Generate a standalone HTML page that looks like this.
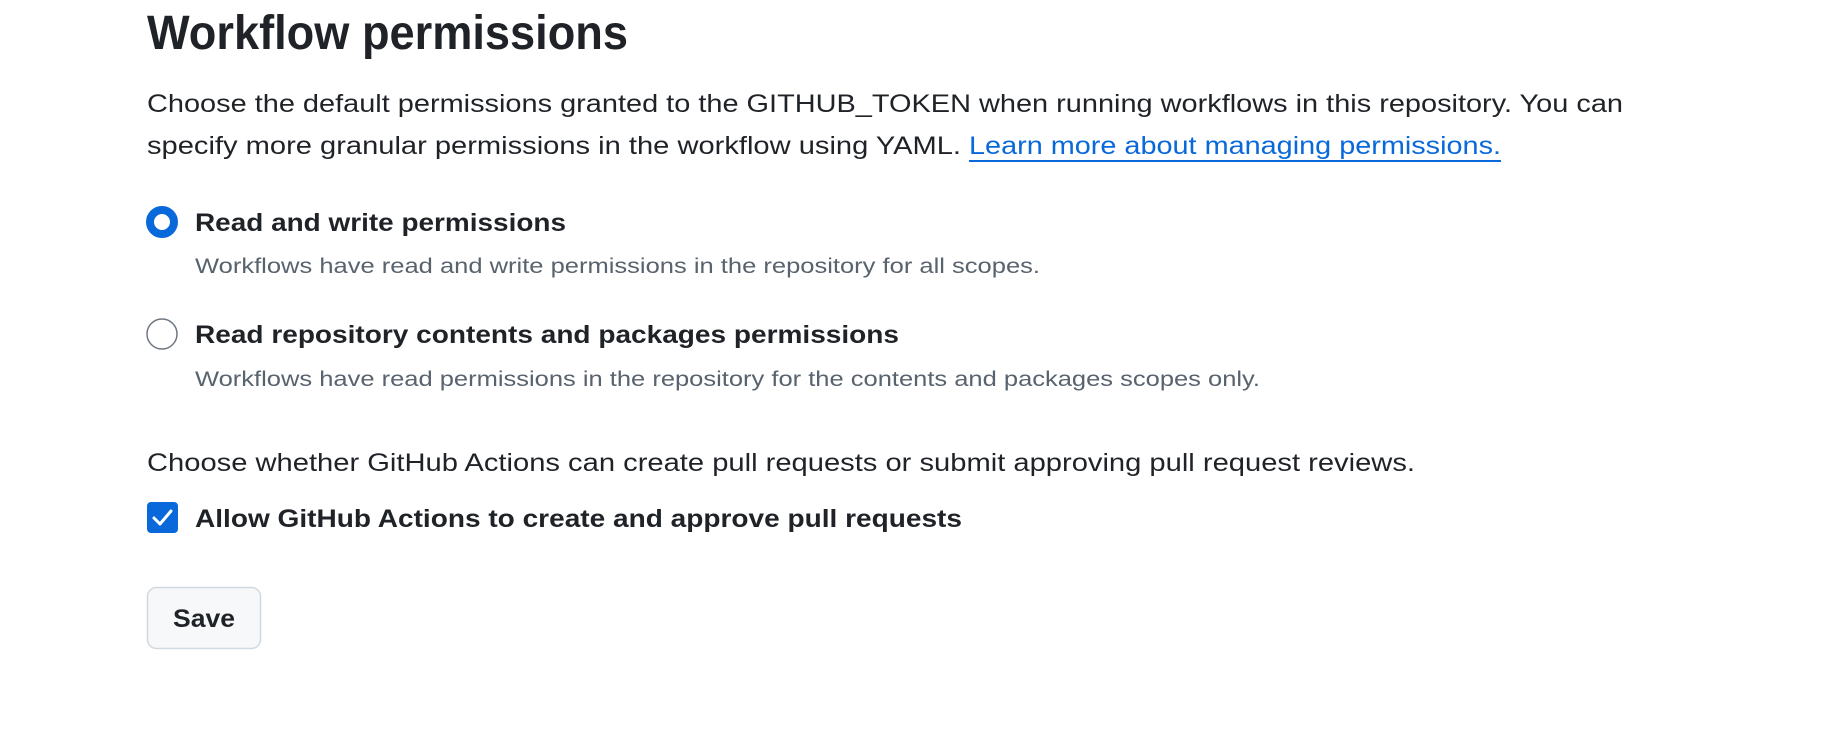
<!DOCTYPE html>
<html><head><meta charset="utf-8"><style>
html,body{margin:0;padding:0;background:#fff;width:1838px;height:736px;overflow:hidden}
svg{display:block}
text{font-family:"Liberation Sans",Arial,sans-serif}
</style></head><body>
<svg width="1838" height="736" viewBox="0 0 1838 736" xmlns="http://www.w3.org/2000/svg">
<text x="147" y="49" font-size="48" font-weight="bold" fill="#1f2328" textLength="481" lengthAdjust="spacingAndGlyphs">Workflow permissions</text>
<text x="147" y="112" font-size="25" fill="#1f2328" textLength="1476" lengthAdjust="spacingAndGlyphs">Choose the default permissions granted to the GITHUB_TOKEN when running workflows in this repository. You can</text>
<text x="147" y="154" font-size="25" fill="#1f2328" textLength="814" lengthAdjust="spacingAndGlyphs">specify more granular permissions in the workflow using YAML.</text>
<text x="969" y="154" font-size="25" fill="#0969da" textLength="532" lengthAdjust="spacingAndGlyphs">Learn more about managing permissions.</text>
<rect x="969" y="160" width="532" height="2" fill="#0969da"/>
<circle cx="162" cy="222" r="12" fill="#fff" stroke="#0969da" stroke-width="8"/>
<text x="195" y="231" font-size="25" font-weight="bold" fill="#1f2328" textLength="371" lengthAdjust="spacingAndGlyphs">Read and write permissions</text>
<text x="195" y="273" font-size="21" fill="#59636e" textLength="845" lengthAdjust="spacingAndGlyphs">Workflows have read and write permissions in the repository for all scopes.</text>
<circle cx="162" cy="334" r="15" fill="#fff" stroke="#6e7781" stroke-width="1.5"/>
<text x="195" y="343" font-size="25" font-weight="bold" fill="#1f2328" textLength="704" lengthAdjust="spacingAndGlyphs">Read repository contents and packages permissions</text>
<text x="195" y="386" font-size="21" fill="#59636e" textLength="1065" lengthAdjust="spacingAndGlyphs">Workflows have read permissions in the repository for the contents and packages scopes only.</text>
<text x="147" y="471" font-size="25" fill="#1f2328" textLength="1268" lengthAdjust="spacingAndGlyphs">Choose whether GitHub Actions can create pull requests or submit approving pull request reviews.</text>
<rect x="147" y="502" width="31" height="31" rx="4" fill="#0969da"/>
<path d="M154 518 L160 524 L171 511" fill="none" stroke="#fff" stroke-width="3" stroke-linecap="round" stroke-linejoin="round"/>
<text x="195" y="527" font-size="25" font-weight="bold" fill="#1f2328" textLength="767" lengthAdjust="spacingAndGlyphs">Allow GitHub Actions to create and approve pull requests</text>
<rect x="147.5" y="587.5" width="113" height="61" rx="9" fill="#f6f8fa" stroke="#d1d9e0" stroke-width="1.5"/>
<text x="204" y="627" font-size="25" font-weight="bold" fill="#1f2328" text-anchor="middle" textLength="62" lengthAdjust="spacingAndGlyphs">Save</text>
</svg>
</body></html>
